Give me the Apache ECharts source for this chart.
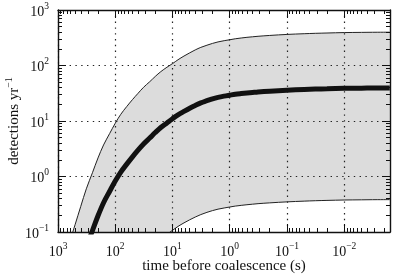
<!DOCTYPE html>
<html><head><meta charset="utf-8">
<script src="https://cdn.jsdelivr.net/npm/echarts@6/dist/echarts.min.js"></script>
<style>html,body{margin:0;padding:0;background:#fff}#c{width:399px;height:279px}</style>
</head><body><div id="c"></div>
<script>
// time before coalescence (s)
const timeSec = [1000, 630, 500, 400, 320, 250, 200, 160, 125, 100, 80, 63, 50, 40, 32, 25, 20, 16, 12.5, 10, 8, 6.3, 5, 4, 3.2, 2.5, 2, 1.6, 1.25, 1, 0.8, 0.63, 0.5, 0.4, 0.32, 0.2, 0.1, 0.05, 0.032, 0.02, 0.01, 0.005, 0.0032, 0.0016];
// detections per year: central estimate (thick line)
const centerRate = [0.0012, 0.0058, 0.0126, 0.0267, 0.0546, 0.106, 0.196, 0.337, 0.543, 0.826, 1.2, 1.67, 2.26, 2.98, 3.86, 4.93, 6.19, 7.64, 9.25, 11.0, 12.9, 14.9, 17.0, 19.1, 21.2, 23.2, 25.1, 26.7, 28.1, 29.2, 30.3, 31.2, 32.0, 32.7, 33.4, 34.5, 35.9, 37.0, 37.6, 38.1, 38.8, 39.1, 39.3, 39.4];
// upper edge of the shaded band
const upperRate = [0.013, 0.064, 0.138, 0.29, 0.6, 1.17, 2.16, 3.7, 5.97, 9.1, 13.2, 18.2, 24.3, 31.5, 40.5, 51, 63.5, 77.5, 93, 108, 127, 148, 169, 191, 212, 232, 250, 266, 280, 291, 303, 313, 322, 329, 336, 348, 363, 374, 380, 385, 392, 395, 397, 398];
// lower edge of the shaded band
const lowerRate = [0.000012, 0.00006, 0.00013, 0.00027, 0.00055, 0.0011, 0.002, 0.0034, 0.0054, 0.0083, 0.012, 0.0167, 0.0226, 0.0298, 0.0386, 0.049, 0.062, 0.076, 0.091, 0.107, 0.126, 0.146, 0.166, 0.186, 0.206, 0.226, 0.243, 0.258, 0.271, 0.282, 0.293, 0.302, 0.31, 0.317, 0.324, 0.335, 0.349, 0.36, 0.366, 0.371, 0.377, 0.38, 0.382, 0.383];
// tick labels (powers of ten)
const xTickExps = [3, 2, 1, 0, -1, -2];
const yTickExps = [-1, 0, 1, 2, 3];

const L = Math.log10;
const FONT = '"Liberation Serif","Times New Roman",serif';
const INK = '#111';
const xMin = -2.8, xMax = 3, yMin = -1, yMax = 3;

function minorList(lo, hi) {
  const a = [];
  for (let n = Math.floor(lo) - 1; n <= Math.ceil(hi); n++)
    for (let k = 2; k <= 9; k++) { const v = n + L(k); if (v > lo && v < hi) a.push(v); }
  return a;
}
const xMinor = minorList(xMin, xMax), yMinor = minorList(yMin, yMax);

const supRich = {
  b: {fontFamily: FONT, fontSize: 14, color: INK, lineHeight: 18, verticalAlign: 'bottom'},
  s: {fontFamily: FONT, fontSize: 9.5, color: INK, lineHeight: 12, verticalAlign: 'top'}
};
const supFmt = v => '{b|10}{s|' + (v < 0 ? '\u2212' + (-v) : v) + '}';

const lineStyleAxis = {color: INK, width: 1.4};
const dotted = {color: '#222', type: [1.4, 4.4], width: 1.2};

function axis(dim, pos, ticks, minor, withLabels) {
  const o = {
    type: 'value', position: pos,
    min: dim === 'x' ? xMin : yMin, max: dim === 'x' ? xMax : yMax,
    inverse: dim === 'x',
    axisLine: {show: !minor, onZero: false, lineStyle: lineStyleAxis},
    axisTick: {show: true, inside: true, length: minor ? 4 : 8, customValues: ticks,
               lineStyle: {color: INK, width: 1}},
    axisLabel: {show: false},
    splitLine: {show: false},
    axisPointer: {show: false}
  };
  if (withLabels) {
    o.axisLabel = {show: true, customValues: ticks, formatter: supFmt, rich: supRich, margin: 9};
    o.splitLine = {show: true, lineStyle: dotted};
  }
  return o;
}

const xAxes = [
  axis('x', 'bottom', xTickExps, false, true),
  axis('x', 'bottom', xMinor, true, false),
  axis('x', 'top', xTickExps, false, false),
  axis('x', 'top', xMinor, true, false)
];
Object.assign(xAxes[0], {
  name: 'time before coalescence (s)', nameLocation: 'middle', nameGap: 27, nameMoveOverlap: false,
  nameTextStyle: {fontFamily: FONT, fontSize: 15, color: INK}
});

const yAxes = [
  axis('y', 'left', yTickExps, false, true),
  axis('y', 'left', yMinor, true, false),
  axis('y', 'right', yTickExps, false, false),
  axis('y', 'right', yMinor, true, false)
];
Object.assign(yAxes[0], {
  name: '{a|detections yr}{s|\u22121}', nameLocation: 'middle', nameRotate: 90, nameGap: 36, nameMoveOverlap: false,
  nameTextStyle: {rich: {
    a: {fontFamily: FONT, fontSize: 15, color: INK, lineHeight: 18, verticalAlign: 'bottom'},
    s: {fontFamily: FONT, fontSize: 10, color: INK, lineHeight: 12, verticalAlign: 'top'}
  }}
});

const xs = timeSec.map(L);
const pairs = arr => xs.map((x, i) => [x, L(arr[i])]);

const chart = echarts.init(document.getElementById('c'), null, {renderer: 'canvas'});
chart.setOption({
  animation: false,
  backgroundColor: '#fff',
  grid: {left: 58, right: 9, top: 10, bottom: 47, containLabel: false, outerBoundsMode: 'none'},
  xAxis: xAxes,
  yAxis: yAxes,
  series: [
    // shaded band: grey fill below the upper edge ...
    {type: 'line', data: pairs(upperRate), symbol: 'none', smooth: 0.35, z: -2,
     lineStyle: {color: '#222', width: 1},
     areaStyle: {color: '#dcdcdc', opacity: 1, origin: 'start'}, clip: true},
    // ... cut away below the lower edge
    {type: 'line', data: pairs(lowerRate), symbol: 'none', smooth: 0.35, z: -1,
     lineStyle: {color: '#222', width: 1},
     areaStyle: {color: '#ffffff', opacity: 1, origin: 'start'}, clip: true},
    {type: 'line', data: pairs(centerRate), symbol: 'none', smooth: 0.35, z: 3,
     lineStyle: {color: INK, width: 5}, clip: true}
  ]
});
</script>
</body></html>
